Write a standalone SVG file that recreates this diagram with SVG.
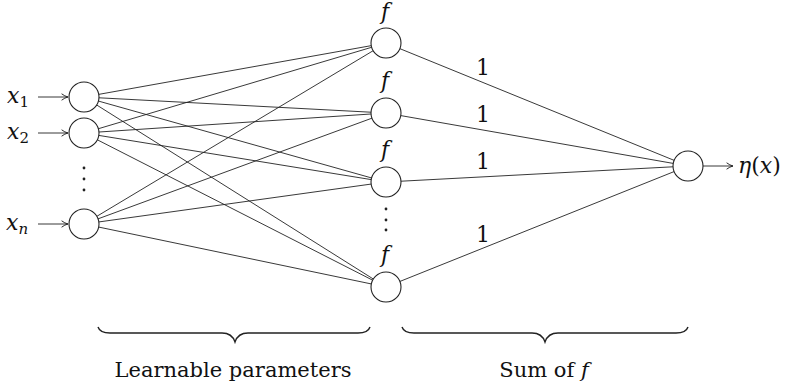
<svg xmlns="http://www.w3.org/2000/svg" width="790" height="386" viewBox="0 0 790 386">
<style>
.n{fill:#fff;stroke:#222;stroke-width:1.1}
.e{stroke:#222;stroke-width:0.9;fill:none}
text{font-family:'DejaVu Serif','Liberation Serif',serif;fill:#111}
.i{font-style:italic}
.dot{fill:#222}
.br{fill:none;stroke:#222;stroke-width:1.4}
</style>
<defs>
<marker id="ah" viewBox="0 0 10 10" refX="9" refY="5" markerWidth="8" markerHeight="8" markerUnits="userSpaceOnUse" orient="auto">
<path d="M1,1 Q5,4 9,5 Q5,6 1,9" fill="none" stroke="#222" stroke-width="1.2"/>
</marker>
</defs>
<g id="connectors">
<line class="e" x1="84" y1="97" x2="386" y2="43"/>
<line class="e" x1="84" y1="97" x2="386" y2="113"/>
<line class="e" x1="84" y1="97" x2="386" y2="182"/>
<line class="e" x1="84" y1="97" x2="386" y2="287"/>
<line class="e" x1="84" y1="133" x2="386" y2="43"/>
<line class="e" x1="84" y1="133" x2="386" y2="113"/>
<line class="e" x1="84" y1="133" x2="386" y2="182"/>
<line class="e" x1="84" y1="133" x2="386" y2="287"/>
<line class="e" x1="84" y1="224" x2="386" y2="43"/>
<line class="e" x1="84" y1="224" x2="386" y2="113"/>
<line class="e" x1="84" y1="224" x2="386" y2="182"/>
<line class="e" x1="84" y1="224" x2="386" y2="287"/>
<line class="e" x1="386" y1="43" x2="688" y2="166"/>
<line class="e" x1="386" y1="113" x2="688" y2="166"/>
<line class="e" x1="386" y1="182" x2="688" y2="166"/>
<line class="e" x1="386" y1="287" x2="688" y2="166"/>
<line class="e" x1="38" y1="97" x2="68" y2="97" marker-end="url(#ah)"/>
<line class="e" x1="38" y1="133" x2="68" y2="133" marker-end="url(#ah)"/>
<line class="e" x1="38" y1="224" x2="68" y2="224" marker-end="url(#ah)"/>
<line class="e" x1="703" y1="166" x2="733" y2="166" marker-end="url(#ah)"/>
</g>
<g id="in1"><circle class="n" cx="84" cy="97" r="15"/><text x="7" y="103" font-size="22"><tspan class="i">x</tspan><tspan font-size="15" dy="4">1</tspan></text></g>
<g id="in2"><circle class="n" cx="84" cy="133" r="15"/><text x="7" y="139" font-size="22"><tspan class="i">x</tspan><tspan font-size="15" dy="4">2</tspan></text></g>
<g id="indots"><circle class="dot" cx="84" cy="168" r="1.4"/><circle class="dot" cx="84" cy="179" r="1.4"/><circle class="dot" cx="84" cy="190" r="1.4"/></g>
<g id="inn"><circle class="n" cx="84" cy="224" r="15"/><text x="6" y="230" font-size="22"><tspan class="i">x</tspan><tspan class="i" font-size="15" dy="4">n</tspan></text></g>
<g id="h1"><circle class="n" cx="386" cy="43" r="15"/><text class="i" x="385" y="19" font-size="22" text-anchor="middle">f</text></g>
<g id="h2"><circle class="n" cx="386" cy="113" r="15"/><text class="i" x="385" y="88" font-size="22" text-anchor="middle">f</text></g>
<g id="h3"><circle class="n" cx="386" cy="182" r="15"/><text class="i" x="385" y="157" font-size="22" text-anchor="middle">f</text></g>
<g id="hdots"><circle class="dot" cx="386" cy="209" r="1.4"/><circle class="dot" cx="386" cy="220" r="1.4"/><circle class="dot" cx="386" cy="230" r="1.4"/></g>
<g id="h4"><circle class="n" cx="386" cy="287" r="15"/><text class="i" x="385" y="262" font-size="22" text-anchor="middle">f</text></g>
<g id="out"><circle class="n" cx="688" cy="166" r="15"/><text x="738" y="173" font-size="22"><tspan class="i">η</tspan>(<tspan class="i">x</tspan>)</text></g>
<g id="weights">
<text x="483" y="75" font-size="22" text-anchor="middle">1</text>
<text x="483" y="122" font-size="22" text-anchor="middle">1</text>
<text x="483" y="169" font-size="22" text-anchor="middle">1</text>
<text x="483" y="242" font-size="22" text-anchor="middle">1</text>
</g>
<g id="brace1">
<path class="br" d="M98,327 Q100,333 110,333 L222,333 Q232,333 235,342 Q238,333 248,333 L358,333 Q368,333 370,327"/>
<text x="233" y="377" font-size="21" text-anchor="middle" textLength="237" lengthAdjust="spacing">Learnable parameters</text>
</g>
<g id="brace2">
<path class="br" d="M402,327 Q404,333 414,333 L532,333 Q542,333 545,342 Q548,333 558,333 L676,333 Q686,333 688,327"/>
<text x="544" y="377" font-size="21" text-anchor="middle">Sum of <tspan class="i">f</tspan></text>
</g>
</svg>
